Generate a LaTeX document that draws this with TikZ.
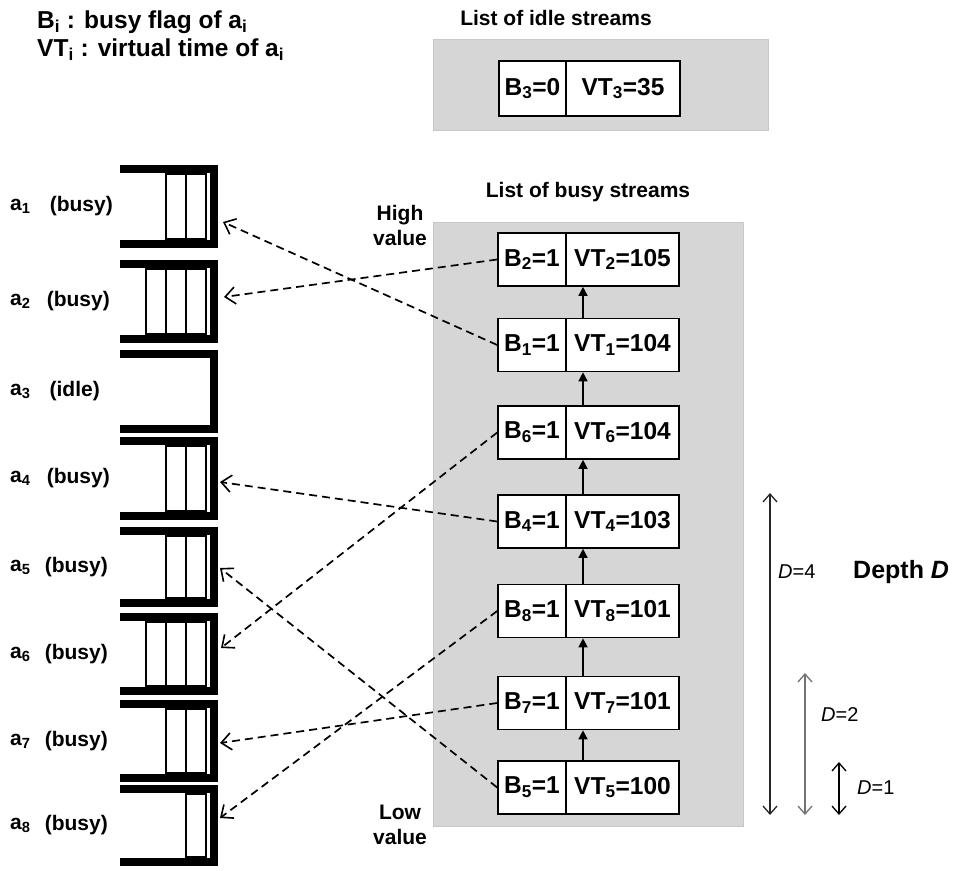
\documentclass[tikz,border=0pt]{standalone}
\usepackage{fontspec}
\setmainfont{Liberation Sans}
\usetikzlibrary{arrows.meta}
\begin{document}
\begin{tikzpicture}[x=1pt,y=-1pt,
  lbl/.style={font=\fontsize{21}{23}\selectfont\bfseries, inner sep=0},
  hdr/.style={font=\fontsize{24.5}{26}\selectfont\bfseries, inner sep=0, anchor=west},
  rec/.style={draw, line width=1.6pt, fill=white, minimum height=53pt, inner sep=0, font=\fontsize{24.5}{26}\selectfont\bfseries},
  recl/.style={rec, minimum width=68pt},
  recr/.style={rec, minimum width=113pt},
  listbg/.style={fill=black!16, draw=black!22, line width=1pt},
  queue/.style={line width=8pt, line join=miter},
  qitem/.style={draw, line width=1.5pt, fill=white},
  link/.style={dash pattern=on 8pt off 5pt, line width=1.7pt, -{Straight Barb[length=10pt,width=17pt,line width=1.6pt]}},
  uparr/.style={line width=1.5pt, -{Triangle[length=9pt,width=9pt]}},
  depth/.style={line width=1.3pt, {Straight Barb[length=8pt,width=14pt,line width=1.3pt]}-{Straight Barb[length=8pt,width=14pt,line width=1.3pt]}},
  dlbl/.style={font=\fontsize{20}{22}\selectfont, inner sep=0, anchor=west}
]
\useasboundingbox (0,0) rectangle (955,870);

% legend
\node[hdr] (leg1) at (37,22) {B\textsubscript{i} : busy flag of a\textsubscript{i}};
\node[hdr] (leg2) at (37,50) {VT\textsubscript{i} : virtual time of a\textsubscript{i}};

% list backgrounds
\node[lbl] (tidle) at (556,18) {List of idle streams};
\fill[listbg] (433,39) rectangle (768,130);
\node[lbl] (tbusy) at (588,192) {List of busy streams};
\fill[listbg] (433,222) rectangle (743,826);

\node[lbl, align=center] (high) at (400,225) {High\\[2pt]value};
\node[lbl, align=center] (low) at (400,825) {Low\\[2pt]value};

% idle record
\node[rec, minimum width=67pt, minimum height=55pt] (b3) at (532.5,88.5) {B\textsubscript{3}=0};
\node[rec, minimum width=114pt, minimum height=55pt] (v3) at (623,88.5) {VT\textsubscript{3}=35};

% busy records
\node[recl] (b2) at (532,259.5) {B\textsubscript{2}=1};
\node[recr] (v2) at (622.5,259.5) {VT\textsubscript{2}=105};
\node[recl] (b1) at (532,345) {B\textsubscript{1}=1};
\node[recr] (v1) at (622.5,345) {VT\textsubscript{1}=104};
\node[recl] (b6) at (532,432.5) {B\textsubscript{6}=1};
\node[recr] (v6) at (622.5,432.5) {VT\textsubscript{6}=104};
\node[recl] (b4) at (532,521.5) {B\textsubscript{4}=1};
\node[recr] (v4) at (622.5,521.5) {VT\textsubscript{4}=103};
\node[recl] (b8) at (532,611) {B\textsubscript{8}=1};
\node[recr] (v8) at (622.5,611) {VT\textsubscript{8}=101};
\node[recl] (b7) at (532,703) {B\textsubscript{7}=1};
\node[recr] (v7) at (622.5,703) {VT\textsubscript{7}=101};
\node[recl] (b5) at (532,787.5) {B\textsubscript{5}=1};
\node[recr] (v5) at (622.5,787.5) {VT\textsubscript{5}=100};

% links between records
\draw[uparr] (v5.north -| 583,0) -- (v7.south -| 583,0);
\draw[uparr] (v7.north -| 583,0) -- (v8.south -| 583,0);
\draw[uparr] (v8.north -| 583,0) -- (v4.south -| 583,0);
\draw[uparr] (v4.north -| 583,0) -- (v6.south -| 583,0);
\draw[uparr] (v6.north -| 583,0) -- (v1.south -| 583,0);
\draw[uparr] (v1.north -| 583,0) -- (v2.south -| 583,0);

% queues
\foreach \t/\b/\n [count=\i] in {165/248/2, 260/343/3, 350/433/0, 437/520/2, 527/607/2, 613/695/3, 700/782/2, 785/866/1}{
  \draw[queue] (120,\t+4) -- (213.5,\t+4) -- (213.5,\b-4) -- (120,\b-4);
  \ifnum\n>0
    \foreach \k in {1,...,\n}{
      \draw[qitem] (206-20*\k,\t+9) rectangle (206-20*\k+20,\b-9);
    }
  \fi
  \node[lbl, anchor=west] (qa\i) at (10,{(\t+\b)/2}) {a\textsubscript{\i}};
}
\node[lbl, anchor=east] (qs1) at (113,206.5) {(busy)};
\node[lbl, anchor=east] (qs2) at (110,301.5) {(busy)};
\node[lbl, anchor=east] (qs3) at (100,391.5) {(idle)};
\node[lbl, anchor=east] (qs4) at (110,478.5) {(busy)};
\node[lbl, anchor=east] (qs5) at (108,567) {(busy)};
\node[lbl, anchor=east] (qs6) at (108,654) {(busy)};
\node[lbl, anchor=east] (qs7) at (108,741) {(busy)};
\node[lbl, anchor=east] (qs8) at (108,825.5) {(busy)};

% queue entry points
\coordinate (e1) at (223,222);
\coordinate (e2) at (224,297);
\coordinate (e4) at (220,482);
\coordinate (e5) at (220,568);
\coordinate (e6) at (221,648);
\coordinate (e7) at (220,743);
\coordinate (e8) at (220,818);

\draw[link] (b2.west) -- (e2);
\draw[link] (b1.west) -- (e1);
\draw[link] (b6.west) -- (e6);
\draw[link] (b4.west) -- (e4);
\draw[link] (b8.west) -- (e8);
\draw[link] (b7.west) -- (e7);
\draw[link] (b5.west) -- (e5);

% depth
\coordinate (d4t) at (770,493);
\coordinate (d4b) at (770,815);
\coordinate (d2t) at (805,673);
\coordinate (d2b) at (805,815);
\coordinate (d1t) at (839,762);
\coordinate (d1b) at (839,815);
\draw[depth, draw=black!85] (d4t) -- (d4b);
\draw[depth, draw=black!55] (d2t) -- (d2b);
\draw[depth] (d1t) -- (d1b);
\node[dlbl] (l4) at (778,572) {\textit{D}=4};
\node[dlbl] (l2) at (821,715) {\textit{D}=2};
\node[dlbl] (l1) at (857,788) {\textit{D}=1};
\node[hdr, font=\fontsize{25}{27}\selectfont\bfseries] (depthl) at (853,572) {Depth \textit{D}};
\end{tikzpicture}
\end{document}
